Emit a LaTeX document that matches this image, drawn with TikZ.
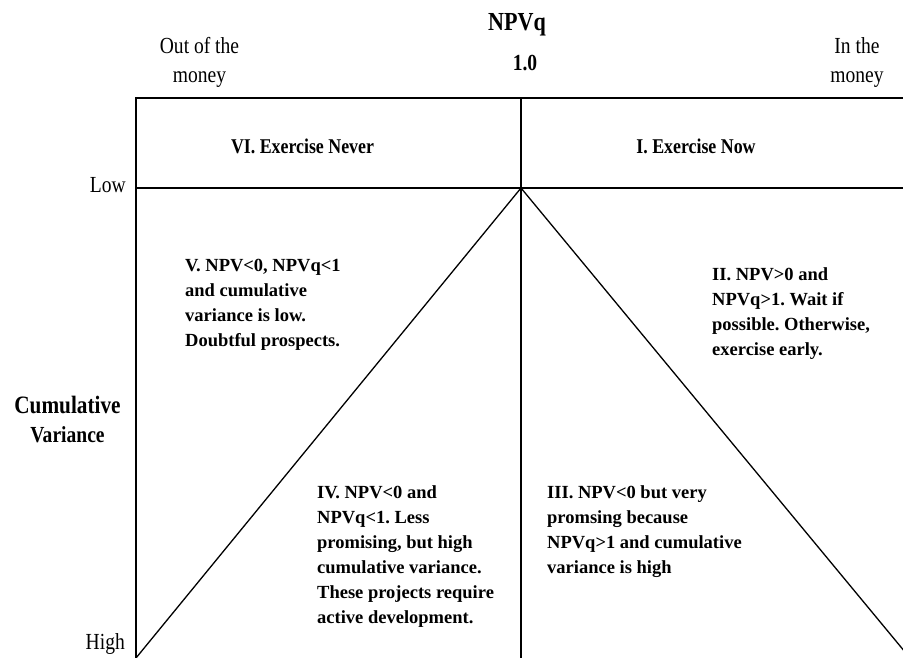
\documentclass[tikz,border=0pt]{standalone}
\usepackage{fontspec}
\setmainfont{Liberation Serif}
\newfontfamily\narrowfont[FakeStretch=0.85]{Liberation Serif}
\usetikzlibrary{positioning}
\frenchspacing

\begin{document}
\begin{tikzpicture}[
  x=1pt, y=-1pt,
  head/.style={
    font=\narrowfont\fontsize{23}{29}\selectfont,
    align=center, inner sep=0pt
  },
  headbold/.style={
    head,
    font=\narrowfont\bfseries\fontsize{23}{29}\selectfont
  },
  zone/.style={
    font=\narrowfont\bfseries\fontsize{21}{25}\selectfont,
    inner sep=0pt
  },
  quad/.style={
    font=\bfseries\fontsize{18.5}{25}\selectfont,
    align=left, anchor=north west, inner sep=0pt
  },
  frame/.style={line width=1.6pt},
  divider/.style={line width=1.3pt}
]

\useasboundingbox (0,0) rectangle (903,658);
\clip (0,0) rectangle (903,658);

\coordinate (topleft) at (136,98);
\coordinate (topright) at (903,98);
\coordinate (botleft) at (136,658);
\coordinate (topmid) at (521,98);
\coordinate (apex) at (521,188);
\coordinate (botmid) at (521,658);
\coordinate (lowleft) at (136,188);
\coordinate (lowright) at (903,188);
\coordinate (diagleft) at (136,658);
\coordinate (diagright) at (910,658);

\node[headbold, anchor=base] (npvq) at (517,31) {\fontsize{26}{29}\selectfont NPVq};
\node[headbold, anchor=base] (one) at (525,71) {1.0};
\node[head, anchor=north] (outmoney) at (199.5,37.5) {Out of the\\money};
\node[head, anchor=north] (inmoney) at (857,37.5) {In the\\money};

\node[zone] (never) at (302.5,146) {VI. Exercise Never};
\node[zone] (now) at (696,146) {I. Exercise Now};

\node[head, anchor=base east] (low) at (126,193) {Low};
\node[head, anchor=base east] (high) at (125,649) {High};
\node[headbold, anchor=north] (cumvar) at (67.5,396)
  {\fontsize{25}{29}\selectfont Cumulative\\Variance};

\node[quad] (doubtful) at (185,258.5) {V. NPV<0, NPVq<1\\and cumulative\\variance is low.\\Doubtful prospects.};
\node[quad] (wait) at (712,267.5) {II. NPV>0 and\\NPVq>1. Wait if\\possible. Otherwise,\\exercise early.};
\node[quad] (develop) at (317,485.5) {IV. NPV<0 and\\NPVq<1. Less\\promising, but high\\cumulative variance.\\These projects require\\active development.};
\node[quad] (promising) at (547,485.5) {III. NPV<0 but very\\promsing because\\NPVq>1 and cumulative\\variance is high};

\draw[frame] (botleft) -- (topleft) -- (topright);
\draw[divider] (lowleft) -- (lowright);
\draw[divider] (topmid) -- (botmid);
\draw[divider] (diagleft) -- (apex) -- (diagright);

\end{tikzpicture}
\end{document}
